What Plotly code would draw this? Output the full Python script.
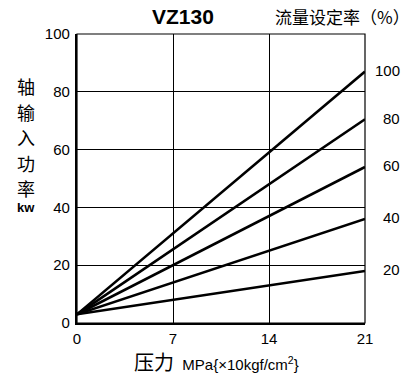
"""VZ130 shaft input power vs pressure."""

import plotly.graph_objects as go

pressure = [0, 21]
flow_pct = [100, 80, 60, 40, 20]
power_at_zero = [3.0, 3.0, 3.0, 3.0, 3.0]
power_at_max = [87.0, 70.5, 54.0, 36.0, 18.0]

x_ticks = [0, 7, 14, 21]
y_ticks = [0, 20, 40, 60, 80, 100]
y_title_chars = ["轴", "输", "入", "功", "率"]

FONT = "Liberation Sans, Arial, sans-serif"
CJK = "Noto Sans CJK SC, sans-serif"

W, H = 416, 376
L, R, T, B = 77, 51, 34, 53
PH = H - T - B


def paper_y(py):
    # pixel row from top -> paper fraction
    return (H - B - py) / PH


fig = go.Figure()
for pct, p0, p1 in zip(flow_pct, power_at_zero, power_at_max):
    fig.add_trace(go.Scatter(x=pressure, y=[p0, p1], mode="lines",
                             line=dict(color="black", width=2.6),
                             name=f"{pct}%", showlegend=False, hoverinfo="skip"))
    fig.add_annotation(x=pressure[-1], y=p1, text=str(pct), showarrow=False,
                       xanchor="right", xshift=37, yshift=1,
                       font=dict(family=FONT, size=15, color="black"))

fig.update_xaxes(range=[0, 21], tickvals=x_ticks, ticks="", showgrid=True,
                 gridcolor="black", gridwidth=1, zeroline=False,
                 showline=True, linecolor="black", linewidth=2.2,
                 tickfont=dict(family=FONT, size=15, color="black"),
                 ticklabelstandoff=1)
fig.update_yaxes(range=[0, 100], tickvals=y_ticks, ticks="", showgrid=True,
                 gridcolor="black", gridwidth=1, zeroline=False,
                 showline=True, linecolor="black", linewidth=2.2,
                 tickfont=dict(family=FONT, size=15, color="black"),
                 ticklabelstandoff=2)

# thin top/right frame
fig.add_shape(type="rect", xref="x domain", yref="y domain", x0=0, x1=1, y0=0, y1=1,
              line=dict(color="black", width=1.2), layer="above")

fig.add_annotation(xref="paper", yref="paper", x=0, xshift=183 - L, y=paper_y(17),
                   text="<b>VZ130</b>", showarrow=False, xanchor="center", yanchor="middle",
                   font=dict(family=FONT, size=21, color="black"))
fig.add_annotation(xref="paper", yref="paper", x=1.0, xshift=47, y=paper_y(17),
                   text="流量设定率（%）", showarrow=False, xanchor="right", yanchor="middle",
                   font=dict(family=CJK, size=17, color="black"))
for ch, py in zip(y_title_chars, [86, 112, 137, 163, 188]):
    fig.add_annotation(xref="paper", yref="paper", x=0, xshift=26 - L, y=paper_y(py),
                       text=ch, showarrow=False, xanchor="center", yanchor="middle",
                       font=dict(family=CJK, size=18, color="black"))
fig.add_annotation(xref="paper", yref="paper", x=0, xshift=26 - L, y=paper_y(207),
                   text="<b>kw</b>", showarrow=False, xanchor="center", yanchor="middle",
                   font=dict(family=FONT, size=13, color="black"))
fig.add_annotation(xref="paper", yref="paper", x=0, xshift=216 - L, y=paper_y(361),
                   text="<span style='font-family:Noto Sans CJK SC;font-size:20px'>压力</span>"
                        "  MPa{×10kgf/cm<sup>2</sup>}",
                   showarrow=False, xanchor="center", yanchor="middle",
                   font=dict(family=FONT, size=15, color="black"))

fig.update_layout(width=W, height=H, margin=dict(l=L, r=R, t=T, b=B),
                  paper_bgcolor="white", plot_bgcolor="white")
fig.write_html("out.html", config={"displayModeBar": False},
               post_script="document.body.style.margin='0';")
